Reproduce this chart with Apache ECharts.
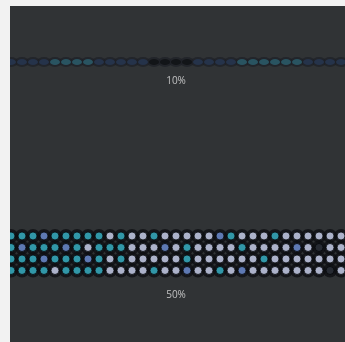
<!DOCTYPE html>
<html><head><meta charset="utf-8">
<script src="https://cdn.jsdelivr.net/npm/echarts@6/dist/echarts.min.js"></script>
<style>
html,body{margin:0;padding:0;background:#f2f2f2;width:345px;height:342px;overflow:hidden}
#c{position:absolute;left:10px;top:6px;width:335px;height:336px}
</style></head>
<body><div id="c"></div>
<script>
// band labels
const bandLabels = ['10%', '50%'];
// top band (10%) dot colour codes per column: n=navy, t=teal, k=black
const topBand = 'nnnnttttnnnnnkkkknnnnttttttnnnnn'.slice(0,31).split('');
// bottom band (50%) dot colour codes per row, top row first: c=cyan, b=blue, l=lavender, d=dark
const bottomRows = [
  'cccbccccclcllclllllbclllcllllllb'.slice(0,31),
  'cbcccbclccclllblcllllcllllbldll',
  'cccbcccbclclllllcllllllcllllllld'.slice(0,31),
  'cccclccccllllcllbllclbllllllldlbl'.slice(0,31)
];
const palette = {c:'#38b8cc', b:'#7092da', l:'#d2d9f6', d:'#2a3038', n:'#26344c', t:'#2a5664', k:'#121417'};

const topY = 18.13;
const labelY = [16.48, -2.13];
const labelX = 15;

const bottomData = [];
bottomRows.forEach((row, r) => {
  row.split('').forEach((code, i) => {
    bottomData.push({value:[i, 3 - r], itemStyle:{color: palette[code]}});
  });
});
const haloData = bottomData.map(d => d.value);
const topData = topBand.map((code, i) => ({value:[i, topY], itemStyle:{color: palette[code]}}));
const topHalo = topData.map(d => d.value);
const labelData = bandLabels.map((t, i) => ({value:[labelX, labelY[i]], name:t}));

const chart = echarts.init(document.getElementById('c'));
chart.setOption({
  backgroundColor:'#303335',
  animation:false,
  grid:{left:0,right:0,top:0,bottom:0},
  xAxis:{type:'value',min:-0.09,max:30.36,show:false},
  yAxis:{type:'value',min:-6.22,max:23,show:false},
  series:[
    {type:'scatter',symbol:'circle',symbolSize:[14,10],data:topHalo,silent:true,
     itemStyle:{color:'#1c2026',opacity:0.7}},
    {type:'scatter',symbol:'circle',symbolSize:[10,6],data:topData,
     itemStyle:{opacity:0.95}},
    {type:'scatter',symbol:'circle',symbolSize:14,data:haloData,silent:true,
     itemStyle:{color:'#0c0e12',opacity:0.75}},
    {type:'scatter',symbol:'circle',symbolSize:8,data:bottomData,
     itemStyle:{borderColor:'#05070a',borderWidth:1}},
    {type:'scatter',symbolSize:0,data:labelData,
     label:{show:true,position:'inside',formatter:p=>p.name,color:'#e2e2e2',fontSize:10,fontFamily:'Open Sans'}}
  ]
});
</script></body></html>
